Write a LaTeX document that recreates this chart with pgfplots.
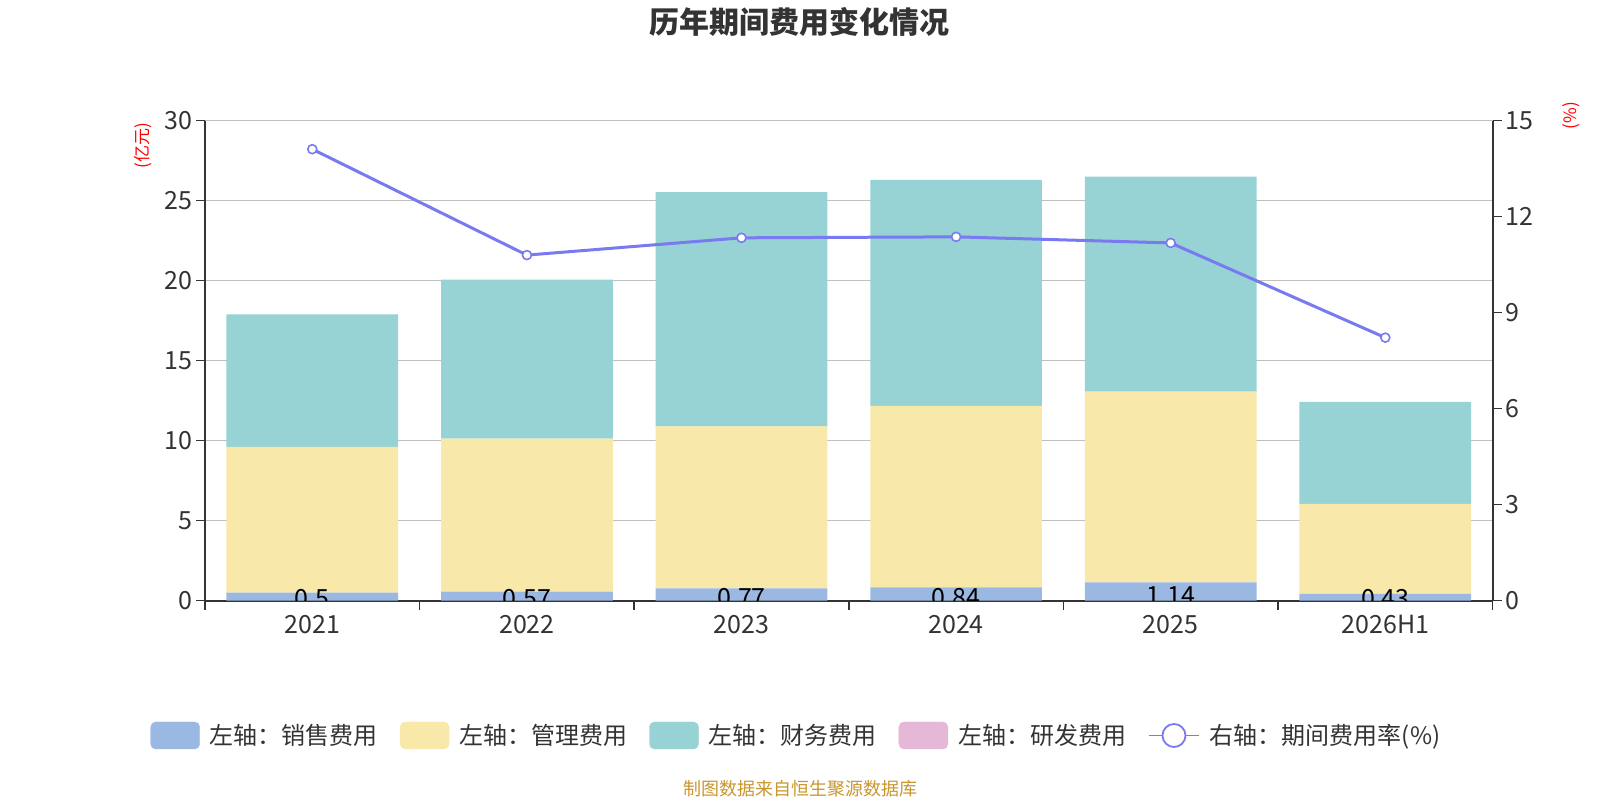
\documentclass[border=0pt]{standalone}
\usepackage{fontspec}
\setmainfont{Noto Sans CJK SC}
\usepackage{pgfplots}
\pgfplotsset{compat=1.18}
\definecolor{c1}{RGB}{155,184,226}
\definecolor{c2}{RGB}{248,232,170}
\definecolor{c3}{RGB}{151,211,212}
\definecolor{c4}{RGB}{230,184,216}
\definecolor{lc}{RGB}{122,122,240}
\definecolor{txt}{RGB}{51,51,51}
\definecolor{foot}{RGB}{200,150,46}
\begin{document}
\begin{tikzpicture}
\path[use as bounding box] (0,0) rectangle (1600bp,800bp);
\pgfplotsset{
 base/.style={scale only axis, width=1287.7bp, height=480bp, at={(205bp,199.3bp)}, anchor=south west,
  xmin=-0.5, xmax=5.5, ymin=0, tick align=outside,
  axis line style={line width=1.8bp, color=txt, -},
  tick style={line width=1.5bp, color=txt}, major tick length=9bp, minor tick length=9bp,
  ticklabel style={font=\fontsize{25bp}{29bp}\selectfont, color=txt},
  /pgf/number format/assume math mode=true}
}
\begin{axis}[base, ymax=30, ytick={0,5,...,30}, ymajorgrids,
  grid style={line width=1.5bp, color=gray!50},
  axis x line*=bottom, axis y line*=left,
  xtick={0,...,5}, xticklabels={2021,2022,2023,2024,2025,2026H1},
  xticklabel style={yshift=-2bp},
  major x tick style={draw=none},
  minor xtick={-0.5,0.5,...,5.5},
  ybar stacked, bar width=0.8, clip marker paths=true]
\addplot[fill=c1, draw=none, nodes near coords, point meta=rawy,
  visualization depends on={rawy \as \rawy},
  every node near coord/.append style={anchor=center, shift={(axis direction cs:0,-\rawy/4)},
  font=\fontsize{25bp}{29bp}\selectfont, text=black}]
  coordinates {(0,0.5)(1,0.57)(2,0.77)(3,0.84)(4,1.14)(5,0.43)};
\addplot[fill=c2, draw=none] coordinates {(0,9.12)(1,9.56)(2,10.12)(3,11.33)(4,11.92)(5,5.62)};
\addplot[fill=c3, draw=none] coordinates {(0,8.28)(1,9.93)(2,14.65)(3,14.13)(4,13.44)(5,6.37)};
\end{axis}
\begin{axis}[base, ymax=15, ytick={0,3,...,15}, axis y line*=right, axis x line=none, xtick=\empty,
  legend style={at={(0.4585,-0.2808)}, anchor=center, draw=none, fill=none, legend columns=5,
   font=\fontsize{24bp}{28bp}\selectfont, text=txt,
   /tikz/every even column/.append style={column sep=22bp},
   /tikz/every odd column/.append style={column sep=10bp},
   nodes={inner sep=0pt}, inner sep=0pt}]
\addlegendimage{legend image code/.code={\fill[c1, rounded corners=5bp] (0bp,-13.5bp) rectangle (49bp,13.5bp);}}
\addlegendentry{左轴：销售费用}
\addlegendimage{legend image code/.code={\fill[c2, rounded corners=5bp] (0bp,-13.5bp) rectangle (49bp,13.5bp);}}
\addlegendentry{左轴：管理费用}
\addlegendimage{legend image code/.code={\fill[c3, rounded corners=5bp] (0bp,-13.5bp) rectangle (49bp,13.5bp);}}
\addlegendentry{左轴：财务费用}
\addlegendimage{legend image code/.code={\fill[c4, rounded corners=5bp] (0bp,-13.5bp) rectangle (49bp,13.5bp);}}
\addlegendentry{左轴：研发费用}
\addplot[lc, line width=3bp, mark=*, mark size=4.5bp, mark options={fill=white, line width=1.6bp},
  legend image code/.code={\draw[lc, line width=1.8bp] (0bp,0bp) -- (50bp,0bp); \draw[lc, line width=1.8bp, fill=white] (25bp,0bp) circle (11.5bp);}]
  coordinates {(0,14.11)(1,10.80)(2,11.34)(3,11.37)(4,11.18)(5,8.22)};
\addlegendentry{右轴：期间费用率(\%)}
\end{axis}
\node[font=\fontsize{30bp}{35bp}\selectfont\bfseries, text=txt] at (799.5bp,778bp) {历年期间费用变化情况};
\node[font=\fontsize{18bp}{21bp}\selectfont, text=foot] at (800bp,11.5bp) {制图数据来自恒生聚源数据库};
\node[rotate=90, text=red, font=\fontsize{17bp}{20bp}\selectfont] at (143bp,654.5bp) {(亿元)};
\node[rotate=90, text=red, font=\fontsize{17bp}{20bp}\selectfont] at (1571bp,684.5bp) {(\%)};
\end{tikzpicture}
\end{document}
